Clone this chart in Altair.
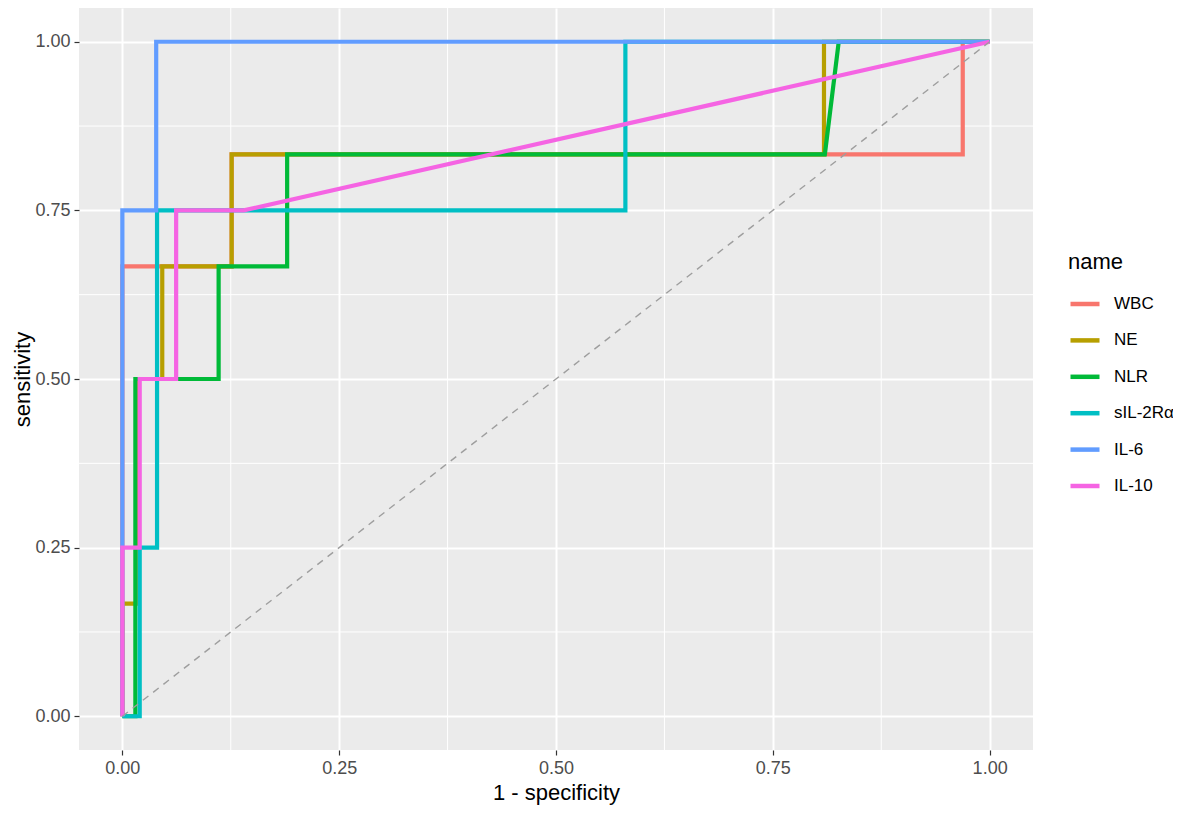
import altair as alt
import pandas as pd

# ---- data ----
series_names = ["WBC", "NE", "NLR", "sIL-2R\u03b1", "IL-6", "IL-10"]
series_colors = ["#F8766D", "#B79F00", "#00BA38", "#00BFC4", "#619CFF", "#F564E3"]

wbc_x = [0, 0, 0.126, 0.126, 0.969, 0.969, 1]
wbc_y = [0, 0.667, 0.667, 0.833, 0.833, 1, 1]

ne_x = [0, 0, 0.017, 0.017, 0.046, 0.046, 0.126, 0.126, 0.809, 0.809, 1]
ne_y = [0, 0.167, 0.167, 0.5, 0.5, 0.667, 0.667, 0.833, 0.833, 1, 1]

nlr_x = [0, 0.015, 0.015, 0.111, 0.111, 0.19, 0.19, 0.81, 0.826, 1]
nlr_y = [0, 0, 0.5, 0.5, 0.667, 0.667, 0.833, 0.833, 1, 1]

sil_x = [0, 0.02, 0.02, 0.04, 0.04, 0.58, 0.58, 1]
sil_y = [0, 0, 0.25, 0.25, 0.75, 0.75, 1, 1]

il6_x = [0, 0, 0.039, 0.039, 1]
il6_y = [0, 0.75, 0.75, 1, 1]

il10_x = [0, 0, 0.02, 0.02, 0.062, 0.062, 0.14, 1]
il10_y = [0, 0.25, 0.25, 0.5, 0.5, 0.75, 0.75, 1]

diag_x = [0, 1]
diag_y = [0, 1]

tick_vals = [0, 0.25, 0.5, 0.75, 1]
minor_vals = [0.125, 0.375, 0.625, 0.875]

all_x = [wbc_x, ne_x, nlr_x, sil_x, il6_x, il10_x]
all_y = [wbc_y, ne_y, nlr_y, sil_y, il6_y, il10_y]

rows = []
for name, xs, ys in zip(series_names, all_x, all_y):
    for i, (a, b) in enumerate(zip(xs, ys)):
        rows.append({"name": name, "fpr": a, "tpr": b, "idx": i})
df = pd.DataFrame(rows)

diag_df = pd.DataFrame({"fpr": diag_x, "tpr": diag_y})
minor_df = pd.DataFrame({"v": minor_vals})

FONT = "Liberation Sans"

xscale = alt.Scale(domain=[-0.05, 1.05], nice=False, zero=False)
yscale = alt.Scale(domain=[-0.05, 1.05], nice=False, zero=False)
cscale = alt.Scale(domain=series_names, range=series_colors)

xaxis = alt.Axis(values=tick_vals, format=".2f", title="1 - specificity",
                 grid=True, gridColor="white", gridWidth=2,
                 domain=False, tickColor="#333333", tickSize=5, tickWidth=1.2,
                 labelColor="#4D4D4D", labelFontSize=18, labelFont=FONT,
                 labelPadding=4, titleFontSize=22, titleFont=FONT,
                 titleFontWeight="normal", titleColor="black", titlePadding=5)
yaxis = alt.Axis(values=tick_vals, format=".2f", title="sensitivity",
                 grid=True, gridColor="white", gridWidth=2,
                 domain=False, tickColor="#333333", tickSize=5, tickWidth=1.2,
                 labelColor="#4D4D4D", labelFontSize=18, labelFont=FONT,
                 labelPadding=4, titleFontSize=22, titleFont=FONT,
                 titleFontWeight="normal", titleColor="black", titlePadding=0)

minor_x = alt.Chart(minor_df).mark_rule(color="white", strokeWidth=1).encode(
    x=alt.X("v:Q", scale=xscale, axis=xaxis))
minor_y = alt.Chart(minor_df).mark_rule(color="white", strokeWidth=1).encode(
    y=alt.Y("v:Q", scale=yscale, axis=yaxis))

legend = alt.Legend(title="name", orient="none", legendX=989, legendY=244,
                    titleFontSize=22, titleFont=FONT, titleFontWeight="normal",
                    titleColor="black", titlePadding=13,
                    labelFontSize=17, labelFont=FONT, labelColor="black",
                    labelOffset=12, symbolType="stroke", symbolSize=841,
                    symbolStrokeWidth=4.5, rowPadding=10.4, padding=0)

layers = [minor_x, minor_y]
for name in series_names:
    layers.append(
        alt.Chart(df).transform_filter(alt.datum.name == name)
        .mark_line(strokeWidth=4.2, strokeJoin="miter", strokeCap="butt")
        .encode(x=alt.X("fpr:Q", scale=xscale, axis=xaxis),
                y=alt.Y("tpr:Q", scale=yscale, axis=yaxis),
                color=alt.Color("name:N", scale=cscale, legend=legend),
                order="idx:Q")
    )

diag = alt.Chart(diag_df).mark_line(color="#9E9E9E", strokeWidth=1.4,
                                    strokeDash=[7, 6]).encode(
    x=alt.X("fpr:Q", scale=xscale, axis=xaxis),
    y=alt.Y("tpr:Q", scale=yscale, axis=yaxis))
layers.append(diag)

chart = alt.layer(*layers).properties(
    width=954, height=742,
    autosize=alt.AutoSizeParams(type="none"),
    padding={"left": 71, "top": 0, "right": 140, "bottom": 56},
).configure_view(fill="#EBEBEB", stroke=None)

chart.save("out.html", embed_options={"renderer": "svg", "actions": False})
